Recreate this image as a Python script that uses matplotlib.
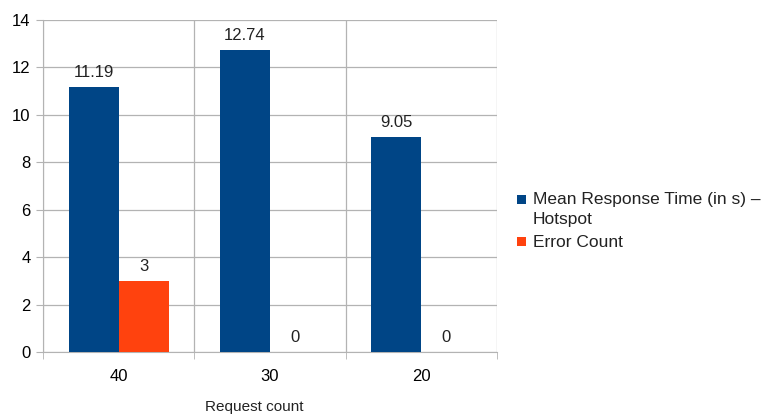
import matplotlib
matplotlib.use("Agg")
import matplotlib.pyplot as plt
import numpy as np
from matplotlib.patches import Rectangle

plt.rcParams['font.family'] = ['Liberation Sans', 'DejaVu Sans']

categories = ["40", "30", "20"]
mean_response = [11.19, 12.74, 9.05]
error_count = [3, 0, 0]
series_names = ["Mean Response Time (in s) –\nHotspot", "Error Count"]
colors = ["#004586", "#ff420e"]

W, H = 763, 416
fig = plt.figure(figsize=(W / 100, H / 100), dpi=100)
ax = fig.add_axes([43 / W, 1 - 352 / H, (497 - 43) / W, (352 - 20) / H])

x = np.arange(len(categories))
w = 0.33
b1 = ax.bar(x - w / 2, mean_response, w, color=colors[0], zorder=3)
b2 = ax.bar(x + w / 2, error_count, w, color=colors[1], zorder=3)

for bars, vals in ((b1, mean_response), (b2, error_count)):
    for r, v in zip(bars, vals):
        ax.text(r.get_x() + r.get_width() / 2, v + 0.3, f"{v:g}",
                ha="center", va="bottom", fontsize=12, color="#222222")

ax.set_xlim(-0.5, len(categories) - 0.5)
ax.set_ylim(0, 14)
ax.set_yticks(range(0, 15, 2))
ax.set_xticks(x)
ax.set_xticklabels(categories)
ax.set_xticks(np.arange(-0.5, len(categories), 1), minor=True)
ax.tick_params(axis="x", which="major", length=0, pad=12, labelsize=12)
ax.tick_params(axis="x", which="minor", length=5, color="#b3b3b3")
ax.tick_params(axis="y", length=5, color="#b3b3b3", labelsize=12, pad=4)
ax.grid(axis="y", color="#b3b3b3", linewidth=0.9, zorder=0)
ax.grid(axis="x", which="minor", color="#b3b3b3", linewidth=0.9, zorder=0)
for s in ax.spines.values():
    s.set_color("#b3b3b3")
ax.spines["top"].set_visible(False)
ax.spines["right"].set_visible(False)

fig.text(254 / W, 1 - 407 / H, "Request count", fontsize=11,
         ha="center", va="center", color="#222222")

# Legend: square swatch aligned with the first line of each entry
entry_top = [199, 242]  # y (px from top) of each entry's first line
for name, c, y0 in zip(series_names, colors, entry_top):
    fig.patches.append(Rectangle((517 / W, 1 - (y0 + 4.5) / H), 9 / W, 9 / H,
                                 transform=fig.transFigure, facecolor=c,
                                 edgecolor="none"))
    fig.text(533 / W, 1 - (y0 - 7) / H, name, fontsize=12.5, ha="left",
             va="top", linespacing=1.4, color="#222222")

fig.savefig("out.png", dpi=100)
